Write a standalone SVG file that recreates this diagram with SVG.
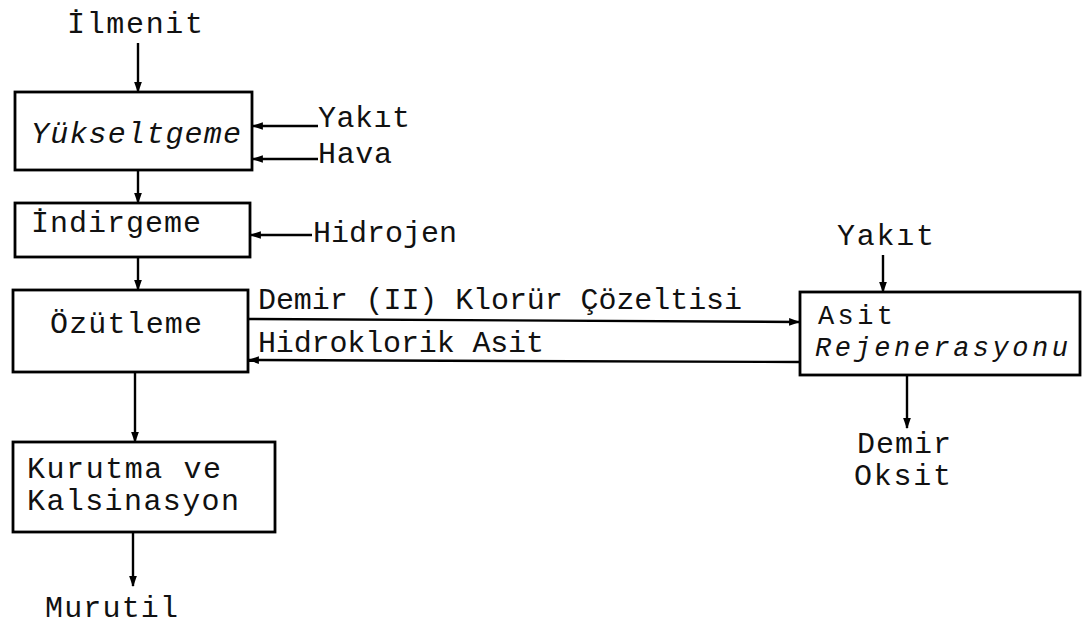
<svg xmlns="http://www.w3.org/2000/svg" width="1089" height="626" viewBox="0 0 1089 626">
<style>
  .box { fill: #fff; stroke: #000; stroke-width: 2.8; }
  .t { font-family: "Liberation Mono", "DejaVu Sans Mono", monospace; font-size: 30px; fill: #111; }
  .s { font-size: 27px; }
  .it { font-style: italic; }
  .ln { stroke: #000; stroke-width: 2.4; fill: none; marker-end: url(#ah); }
</style>
<defs>
  <marker id="ah" viewBox="0 0 10 10" refX="9" refY="5" markerWidth="11" markerHeight="11" markerUnits="userSpaceOnUse" orient="auto">
    <path d="M0,1.5 L10,5 L0,8.5 Z" fill="#000"/>
  </marker>
</defs>
<rect width="1089" height="626" fill="#fff"/>

<g id="connectors">
  <line class="ln" x1="138" y1="43" x2="138" y2="92"/>
  <line class="ln" x1="318" y1="126" x2="253" y2="126"/>
  <line class="ln" x1="318" y1="159" x2="253" y2="159"/>
  <line class="ln" x1="138" y1="170" x2="138" y2="203"/>
  <line class="ln" x1="312" y1="235" x2="251" y2="235"/>
  <line class="ln" x1="138" y1="257" x2="138" y2="290"/>
  <line class="ln" x1="249" y1="319" x2="799" y2="322"/>
  <line class="ln" x1="800" y1="362" x2="249" y2="360"/>
  <line class="ln" x1="135" y1="372" x2="135" y2="442"/>
  <line class="ln" x1="133" y1="532" x2="133" y2="586"/>
  <line class="ln" x1="883" y1="255" x2="883" y2="292"/>
  <line class="ln" x1="907" y1="375" x2="907" y2="428"/>
</g>

<g id="ilmenit"><text class="t" x="67" y="33" textLength="136">İlmenit</text></g>

<g id="yukseltgeme">
  <rect class="box" x="15" y="92" width="237" height="78"/>
  <text class="t it" x="31" y="143" textLength="210">Yükseltgeme</text>
</g>
<g id="yakit1"><text class="t" x="318" y="127" textLength="92">Yakıt</text></g>
<g id="hava"><text class="t" x="318" y="163" textLength="74">Hava</text></g>

<g id="indirgeme">
  <rect class="box" x="15" y="203" width="235" height="54"/>
  <text class="t" x="31" y="232" textLength="170">İndirgeme</text>
</g>
<g id="hidrojen"><text class="t" x="313" y="242" textLength="144">Hidrojen</text></g>

<g id="ozutleme">
  <rect class="box" x="13" y="290" width="235" height="82"/>
  <text class="t" x="50" y="333" textLength="152">Özütleme</text>
</g>

<g id="label-demir2"><text class="t" x="258" y="309" textLength="484">Demir (II) Klorür Çözeltisi</text></g>
<g id="label-hcl"><text class="t" x="258" y="352" textLength="286">Hidroklorik Asit</text></g>

<g id="kurutma">
  <rect class="box" x="13" y="442" width="262" height="90"/>
  <text class="t" x="27" y="478" textLength="194">Kurutma ve</text>
  <text class="t" x="27" y="510" textLength="212">Kalsinasyon</text>
</g>
<g id="murutil"><text class="t" x="45" y="617" textLength="133">Murutil</text></g>

<g id="yakit2"><text class="t" x="837" y="245" textLength="97">Yakıt</text></g>
<g id="asit-rej">
  <rect class="box" x="800" y="292" width="280" height="83"/>
  <text class="t s" x="818" y="324" textLength="75">Asit</text>
  <text class="t s it" x="815" y="356" textLength="253">Rejenerasyonu</text>
</g>
<g id="demir-oksit">
  <text class="t" x="857" y="453" textLength="94">Demir</text>
  <text class="t" x="854" y="485" textLength="97">Oksit</text>
</g>
</svg>
